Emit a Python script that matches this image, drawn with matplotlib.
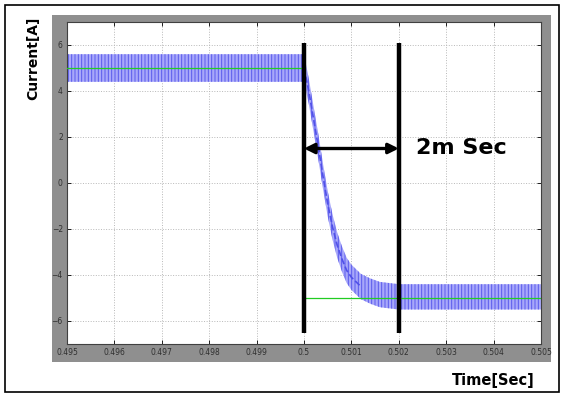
import matplotlib.pyplot as plt
import numpy as np
from matplotlib.patches import Rectangle

# envelope of the current ripple
t_ms = [0.495, 0.4995, 0.5, 0.5001, 0.5002, 0.5003, 0.5004, 0.5005, 0.5006,
        0.5007, 0.5008, 0.5009, 0.5010, 0.5012, 0.5014, 0.5016, 0.5018,
        0.5020, 0.5035, 0.505]
i_center = [5.0, 5.0, 5.0, 4.0, 2.8, 1.6, 0.3, -0.9, -1.9,
            -2.7, -3.3, -3.8, -4.1, -4.5, -4.7, -4.85, -4.9,
            -4.95, -4.95, -4.95]
i_half = [0.6, 0.6, 0.6, 0.55, 0.55, 0.55, 0.55, 0.55, 0.55,
          0.55, 0.55, 0.55, 0.55, 0.55, 0.55, 0.55, 0.55,
          0.55, 0.55, 0.55]

# reference current
ref_t = [0.495, 0.5, 0.5, 0.505]
ref_i = [5.0, 5.0, -5.0, -5.0]

marker_t = [0.5, 0.502]
marker_lo, marker_hi = -6.5, 6.1
arrow_y = 1.5

xticks = [0.495, 0.496, 0.497, 0.498, 0.499, 0.5, 0.501, 0.502, 0.503, 0.504, 0.505]
xtick_labels = ['0.495', '0.496', '0.497', '0.498', '0.499', '0.5',
                '0.501', '0.502', '0.503', '0.504', '0.505']
yticks = [-6, -4, -2, 0, 2, 4, 6]

W, H = 565, 395
fig = plt.figure(figsize=(W / 100, H / 100), dpi=100)
fig.patch.set_facecolor('white')

# outer frame and matlab gray panel
fig.add_artist(Rectangle((5 / W, 3 / H), 554 / W, 387 / H, transform=fig.transFigure,
                         facecolor='none', edgecolor='black', lw=1.2))
fig.add_artist(Rectangle((52 / W, 1 - 362 / H), 499 / W, 347 / H, transform=fig.transFigure,
                         facecolor='#8f8f8f', edgecolor='none', zorder=0))

ax = fig.add_axes([67 / W, 1 - 344 / H, 474 / W, 322 / H])
ax.set_facecolor('white')

t = np.array(t_ms)
c = np.array(i_center)
h = np.array(i_half)
plt.rcParams['hatch.linewidth'] = 0.7
ax.fill_between(t, c - h, c + h, facecolor='#a8a8fa', edgecolor='#5a5aec',
                hatch='|||||', lw=0, zorder=2)
# steep part of the transient shows as a thin dashed trace
steep = slice(2, 14)
ax.plot(t[steep], c[steep], color='#5050e8', lw=1.2, ls='--', zorder=2)
ax.plot(ref_t, ref_i, color='#22cc22', lw=0.9, zorder=3)

for x in marker_t:
    ax.plot([x, x], [marker_lo, marker_hi], color='black', lw=3.2,
            solid_capstyle='butt', zorder=5)

ax.annotate('', xy=(marker_t[0], arrow_y), xytext=(marker_t[1], arrow_y),
            arrowprops=dict(arrowstyle='<|-|>', color='black', lw=2.4,
                            mutation_scale=15, shrinkA=0, shrinkB=0), zorder=6)
ax.text(0.50236, arrow_y, '2m Sec', fontsize=16, fontweight='bold',
        va='center', ha='left', zorder=6)

ax.set_xlim(0.495, 0.505)
ax.set_ylim(-7, 7)
ax.set_xticks(xticks)
ax.set_xticklabels(xtick_labels)
ax.set_yticks(yticks)
ax.tick_params(direction='in', length=3, width=0.6, labelsize=5.5,
               labelcolor='#303030', top=True, right=True, pad=3)
ax.grid(True, ls=':', color='#b8b8b8', lw=0.7)
for s in ax.spines.values():
    s.set_color('#404040')
    s.set_linewidth(0.8)

fig.text(33 / W, 1 - 58 / H, 'Current[A]', rotation=90, ha='center', va='center',
         fontsize=10, fontweight='bold')
fig.text(535 / W, 1 - 380 / H, 'Time[Sec]', ha='right', va='center',
         fontsize=10.5, fontweight='bold')

fig.savefig('out.png', dpi=100)
